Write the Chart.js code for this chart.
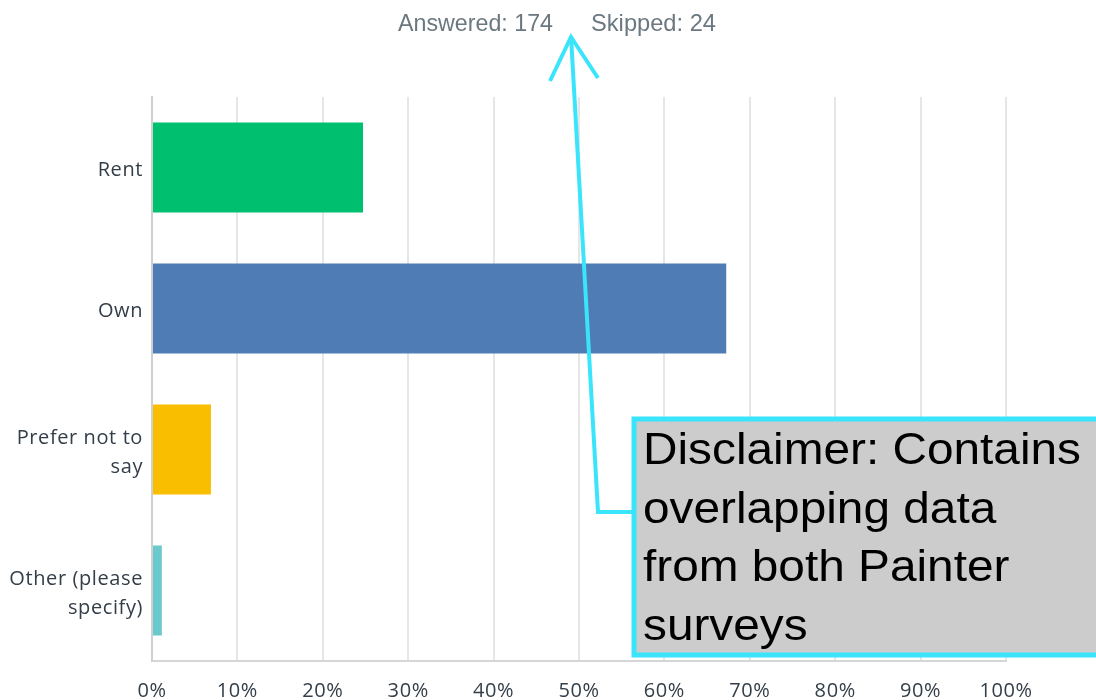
<!DOCTYPE html>
<html>
<head>
<meta charset="utf-8">
<script src="https://cdn.jsdelivr.net/npm/chart.js@4.4.1/dist/chart.umd.min.js"></script>
<style>
  html, body { margin: 0; padding: 0; background: #fff; }
  #wrap { width: 1096px; height: 700px; }
</style>
</head>
<body>
<div id="wrap"><canvas id="chart" width="1096" height="700"></canvas></div>
<script>
// ── DATA ──────────────────────────────────────────────────────────────────────
const categories  = ['Rent', 'Own', ['Prefer not to', 'say'], ['Other (please', 'specify)']];
const percentages = [24.71, 67.24, 6.90, 1.15];
const barColors   = ['#00bf6f', '#507cb6', '#f9be00', '#6bc8cd'];
const xTicks      = [0, 10, 20, 30, 40, 50, 60, 70, 80, 90, 100];
const answered    = 'Answered: 174';
const skipped     = 'Skipped: 24';
const noteLines   = ['Disclaimer: Contains', 'overlapping data', 'from both Painter', 'surveys'];

const LABEL_FONT = "'Open Sans', 'Noto Sans', sans-serif";
const CYAN = '#3ae4fb';

// draw text squeezed/stretched horizontally so it spans a given width
function fitText(ctx, text, x, y, width, ref) {
  const k = width / ctx.measureText(ref || text).width;
  ctx.save();
  ctx.translate(x, y);
  ctx.scale(k, 1);
  ctx.fillText(text, 0, 0);
  ctx.restore();
}

// ── LETTER SPACING FOR AXIS LABELS ────────────────────────────────────────────
const spacing = {
  id: 'spacing',
  beforeDraw(chart) { chart.ctx.letterSpacing = '0.6px'; },
  afterDatasetsDraw(chart) { chart.ctx.letterSpacing = '0px'; }
};

// ── HEADER + ANNOTATION ───────────────────────────────────────────────────────
const overlay = {
  id: 'overlay',
  afterDraw(chart) {
    const ctx = chart.ctx;
    ctx.save();
    ctx.letterSpacing = '0px';

    // answered / skipped line
    ctx.fillStyle = '#6b7880';
    ctx.font = "24px 'Liberation Sans', Arial, sans-serif";
    ctx.textBaseline = 'alphabetic';
    ctx.textAlign = 'left';
    fitText(ctx, answered, 398, 31, 155);
    fitText(ctx, skipped, 591, 31, 125);

    // arrow from box up to header
    ctx.strokeStyle = CYAN;
    ctx.lineWidth = 4;
    ctx.beginPath();
    ctx.moveTo(634, 512);
    ctx.lineTo(598, 512);
    ctx.lineTo(571, 36);
    ctx.stroke();
    ctx.beginPath();
    ctx.moveTo(550, 81);
    ctx.lineTo(571, 37);
    ctx.lineTo(598, 78);
    ctx.stroke();

    // disclaimer box
    ctx.fillStyle = '#cccccc';
    ctx.fillRect(634, 419, 470, 236);
    ctx.lineWidth = 5;
    ctx.strokeRect(634, 419, 470, 236);

    ctx.fillStyle = '#000';
    ctx.font = "45px 'Liberation Sans', Arial, sans-serif";
    const k = 438 / ctx.measureText(noteLines[0]).width;
    noteLines.forEach((t, i) => {
      ctx.save();
      ctx.translate(643, 464 + i * 58.7);
      ctx.scale(k, 1);
      ctx.fillText(t, 0, 0);
      ctx.restore();
    });

    ctx.restore();
  }
};

// ── CHART ─────────────────────────────────────────────────────────────────────
new Chart(document.getElementById('chart'), {
  type: 'bar',
  data: {
    labels: categories,
    datasets: [{
      data: percentages,
      backgroundColor: barColors,
      barPercentage: 0.64,
      categoryPercentage: 1
    }]
  },
  options: {
    indexAxis: 'y',
    responsive: false,
    animation: false,
    layout: { padding: { top: 97, right: 90, bottom: 0, left: 0 } },
    plugins: { legend: { display: false }, tooltip: { enabled: false } },
    scales: {
      x: {
        min: 0, max: 100,
        afterBuildTicks: s => { s.ticks = xTicks.map(v => ({ value: v })); },
        afterFit: s => { s.height = 39; },
        ticks: {
          callback: v => v + '%',
          color: '#333e48',
          font: { family: LABEL_FONT, size: 20 },
          padding: 18,
          maxRotation: 0
        },
        grid: { color: '#e6e6e6', lineWidth: 2, drawTicks: false },
        border: { color: '#d6d6d6', width: 2 }
      },
      y: {
        afterFit: s => { s.width = 152; },
        ticks: {
          color: '#333e48',
          font: { family: LABEL_FONT, size: 20, lineHeight: 1.45 },
          padding: 9,
          labelOffset: 3
        },
        grid: { display: false, drawTicks: false },
        border: { color: '#cfcfcf', width: 2 }
      }
    }
  },
  plugins: [spacing, overlay]
});
</script>
</body>
</html>
